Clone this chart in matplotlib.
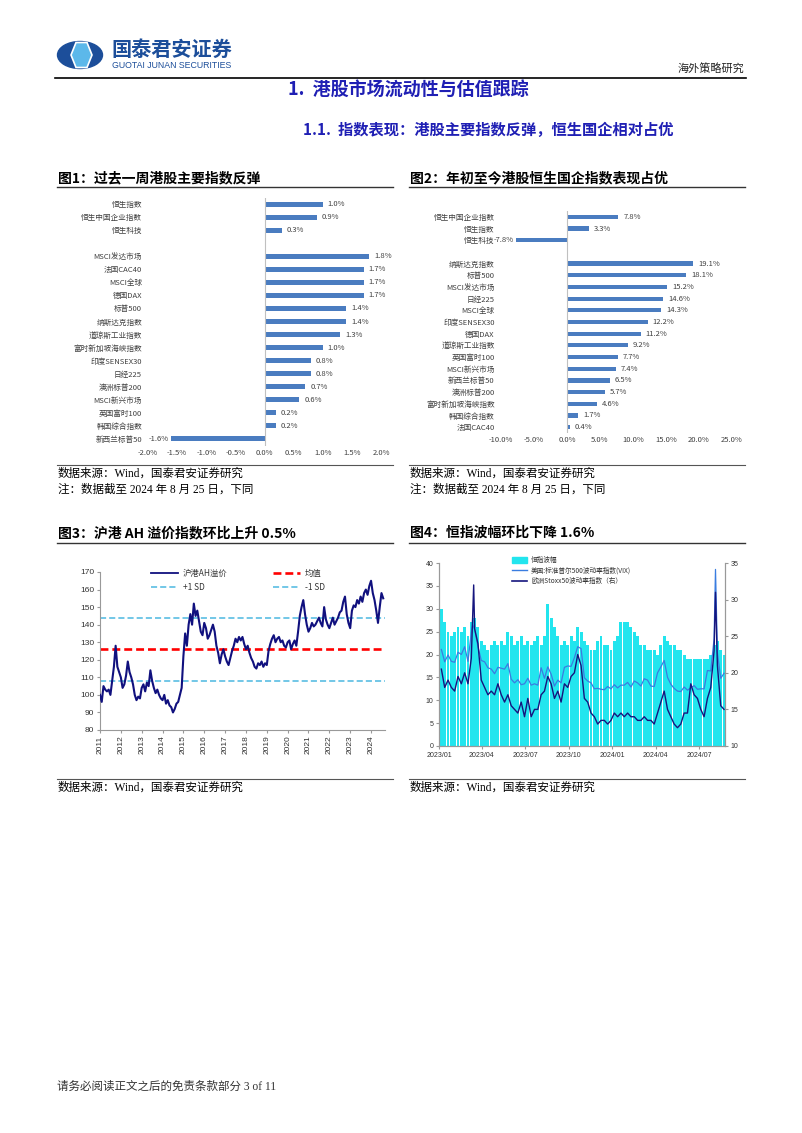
import numpy as np
import pandas as pd
import matplotlib
matplotlib.use("Agg")
import matplotlib.pyplot as plt
from matplotlib.patches import Ellipse, Polygon, Patch
from matplotlib.lines import Line2D

W, H = 802, 1133
CJK = ["Noto Sans CJK SC", "DejaVu Sans"]
SERIF = ["Liberation Serif", "Noto Sans CJK SC"]
ARIAL = ["Liberation Sans", "Noto Sans CJK SC"]
plt.rcParams["font.family"] = CJK
plt.rcParams["axes.unicode_minus"] = False

BLUE_T = "#1f1fb4"
BAR = "#4a7cc0"
GREY_TXT = "#404040"

# ---- fig 1: weekly change (%)
hk1_names = ["恒生指数", "恒生中国企业指数", "恒生科技"]
hk1_vals = [1.0, 0.9, 0.3]
gl1_names = ["MSCI发达市场", "法国CAC40", "MSCI全球", "德国DAX", "标普500", "纳斯达克指数",
             "道琼斯工业指数", "富时新加坡海峡指数", "印度SENSEX30", "日经225", "澳洲标普200",
             "MSCI新兴市场", "英国富时100", "韩国综合指数", "新西兰标普50"]
gl1_vals = [1.8, 1.7, 1.7, 1.7, 1.4, 1.4, 1.3, 1.0, 0.8, 0.8, 0.7, 0.6, 0.2, 0.2, -1.6]
ticks1 = [-2.0, -1.5, -1.0, -0.5, 0.0, 0.5, 1.0, 1.5, 2.0]

# ---- fig 2: YTD change (%)
hk2_names = ["恒生中国企业指数", "恒生指数", "恒生科技"]
hk2_vals = [7.8, 3.3, -7.8]
gl2_names = ["纳斯达克指数", "标普500", "MSCI发达市场", "日经225", "MSCI全球", "印度SENSEX30",
             "德国DAX", "道琼斯工业指数", "英国富时100", "MSCI新兴市场", "新西兰标普50",
             "澳洲标普200", "富时新加坡海峡指数", "韩国综合指数", "法国CAC40"]
gl2_vals = [19.1, 18.1, 15.2, 14.6, 14.3, 12.2, 11.2, 9.2, 7.7, 7.4, 6.5, 5.7, 4.6, 1.7, 0.4]
ticks2 = [-10.0, -5.0, 0.0, 5.0, 10.0, 15.0, 20.0, 25.0]

# ---- fig 3: AH premium index, monthly readings 2011/01 - 2024/08
ah_premium = [
    100, 96, 105, 103, 102, 103, 100, 108, 116, 128, 116, 113,   # 2011
    110, 104, 106, 111, 119, 113, 110, 106, 100, 97, 99, 98,     # 2012
    104, 106, 102, 107, 105, 114, 108, 104, 101, 103, 100, 98,   # 2013
    97, 100, 95, 97, 94, 93, 90, 92, 95, 96, 100, 104,           # 2014
    122, 135, 128, 140, 146, 140, 152, 145, 148, 142, 136, 134,  # 2015
    141, 138, 132, 134, 137, 140, 136, 128, 124, 118, 123, 126,  # 2016
    122, 119, 117, 121, 125, 128, 132, 130, 133, 131, 133, 129,  # 2017
    126, 128, 124, 121, 119, 116, 115, 118, 117, 119, 116, 118,  # 2018
    117, 125, 129, 132, 134, 130, 132, 133, 130, 131, 128, 127,  # 2019
    130, 131, 126, 129, 131, 128, 136, 145, 150, 154, 146, 140,  # 2020
    136, 138, 141, 139, 140, 142, 144, 141, 139, 150, 143, 140,  # 2021
    138, 141, 144, 140, 142, 144, 147, 148, 153, 156, 146, 141,  # 2022
    138, 148, 151, 150, 154, 152, 156, 153, 158, 160, 157, 162,  # 2023
    165, 158, 154, 148, 141, 150, 158, 155,                      # 2024
]
ah_mean, ah_up, ah_dn = 126, 144, 108
ah_years = list(range(2011, 2025))

# ---- fig 4: volatility, weekly readings (Fridays 2023-01-06 .. 2024-08-23)
vhsi = [30, 27, 25, 24, 25, 26, 25, 26, 24, 27, 28, 26, 23, 22, 21, 22, 23,
        22, 23, 22, 25, 24, 22, 23, 24, 22, 23, 22, 23, 24, 22, 24, 31, 28,
        26, 24, 22, 23, 22, 24, 23, 26, 25, 23, 22, 21, 21, 23, 24, 22, 22, 21,
        23, 24, 27, 27, 27, 26, 25, 24, 22, 22, 21, 21, 21, 20, 22, 24, 23,
        22, 22, 21, 21, 20, 19, 19, 19, 19, 19, 19, 19, 20, 22, 23, 21, 20]
vix = [21.1, 18.4, 19.9, 18.5, 18.3, 20.5, 20.0, 21.7, 18.5, 24.8, 25.5, 21.7, 18.7,
       18.4, 17.1, 16.8, 15.8, 17.2, 17.0, 16.8, 18.0, 14.6, 13.8, 14.5, 13.4, 13.6,
       14.8, 13.3, 13.6, 13.3, 17.1, 14.8, 17.3, 15.7, 13.1, 14.4, 13.8, 17.2, 17.5,
       17.4, 19.3, 21.7, 21.3, 14.9, 14.2, 13.8, 12.5, 12.6, 12.4, 12.3, 13.0, 12.5,
       13.4, 12.7, 13.3, 13.3, 13.9, 12.9, 14.2, 13.8, 13.1, 14.7, 14.4, 13.1, 13.0,
       16.0, 17.3, 18.7, 15.0, 13.5, 12.6, 12.0, 11.9, 12.9, 12.2, 12.7, 13.2, 12.4,
       12.5, 12.5, 16.5, 16.4, 23.4, 20.4, 14.8, 15.9]
v2x = [20.5, 18.0, 19.0, 18.0, 17.5, 19.5, 18.5, 20.0, 18.5, 22.0, 26.0, 24.0, 19.0,
       18.0, 17.0, 17.5, 17.0, 18.5, 17.0, 16.0, 17.0, 15.5, 15.0, 14.5, 16.0, 14.0,
       16.5, 14.0, 15.0, 15.0, 17.0, 17.5, 19.5, 18.5, 16.5, 17.5, 16.0, 18.5, 18.0,
       19.5, 20.0, 22.5, 21.0, 16.5, 16.0, 14.5, 14.0, 13.0, 13.5, 13.5, 13.0, 13.5,
       14.5, 14.0, 14.5, 14.0, 14.5, 14.0, 14.0, 13.5, 13.5, 14.0, 13.5, 13.5, 13.0,
       14.5, 16.0, 17.5, 15.0, 14.0, 13.0, 12.5, 13.0, 14.5, 14.5, 18.5, 17.0, 16.5,
       15.0, 14.0, 16.5, 18.0, 23.0, 21.0, 15.5, 15.0]
vix_spike_dates = ["2023-03-13", "2024-08-05"]
vix_spike_vals = [26.5, 38.6]
v2x_spike_dates = ["2023-03-15", "2024-08-05"]
v2x_spike_vals = [32.0, 31.0]
vol_ticks = ["2023-01-01", "2023-04-01", "2023-07-01", "2023-10-01",
             "2024-01-01", "2024-04-01", "2024-07-01"]
vol_tick_labels = ["2023/01", "2023/04", "2023/07", "2023/10", "2024/01", "2024/04", "2024/07"]


def rect(l, t, r, b):
    return [l / W, 1 - b / H, (r - l) / W, (b - t) / H]


def merged(dates, vals, sdates, svals):
    s = pd.Series(list(vals) + list(svals), index=list(dates) + list(pd.to_datetime(sdates)))
    return s.sort_index()


fig = plt.figure(figsize=(W / 100, H / 100), dpi=100)
bg = fig.add_axes([0, 0, 1, 1])
bg.set_xlim(0, W)
bg.set_ylim(H, 0)
bg.axis("off")

# header
bg.add_patch(Ellipse((80, 55), 45, 27, color="#1c4e9a"))
bg.add_patch(Polygon([(76, 42.5), (87, 42.5), (92, 55), (87, 67.5), (76, 67.5), (71, 55)],
                     closed=True, fc="#5cb8ea", ec="white", lw=1.2))
bg.text(111, 49, "国泰君安证券", fontsize=14.5, weight="bold", color="#1c4e9a", va="center")
bg.text(112, 65, "GUOTAI JUNAN SECURITIES", fontsize=6.3, color="#1c4e9a", va="center",
        family=ARIAL)
bg.text(744, 68, "海外策略研究", fontsize=8, color="#222222", ha="right", va="center")
bg.plot([55, 746], [77.5, 77.5], color="black", lw=1.2)
bg.text(288, 90, "1.  港股市场流动性与估值跟踪", fontsize=13, weight="bold", color=BLUE_T, va="center")
bg.text(303, 130, "1.1.  指数表现：港股主要指数反弹，恒生国企相对占优", fontsize=11, weight="bold",
        color=BLUE_T, va="center")

# chart titles, rules and notes
for x0, x1, t in [(58, 393, "图1：过去一周港股主要指数反弹"), (410, 745, "图2：年初至今港股恒生国企指数表现占优")]:
    bg.text(x0, 178, t, fontsize=10, weight="bold", va="center")
    bg.plot([x0 - 1, x1], [187, 187], color="#333333", lw=1.0)
    bg.plot([x0 - 1, x1], [465, 465], color="#555555", lw=0.8)
    bg.text(x0, 474, "数据来源：Wind，国泰君安证券研究", fontsize=8.3, va="center", family=SERIF)
    bg.text(x0, 490, "注：数据截至 2024 年 8 月 25 日，下同", fontsize=8.3, va="center", family=SERIF)
for x0, x1, t in [(58, 393, "图3：沪港 AH 溢价指数环比上升 0.5%"), (410, 745, "图4：恒指波幅环比下降 1.6%")]:
    bg.text(x0, 533, t, fontsize=10, weight="bold", va="center")
    bg.plot([x0 - 1, x1], [543, 543], color="#333333", lw=1.0)
    bg.plot([x0 - 1, x1], [779, 779], color="#555555", lw=0.8)
    bg.text(x0, 788, "数据来源：Wind，国泰君安证券研究", fontsize=8.3, va="center", family=SERIF)
bg.text(57, 1087, "请务必阅读正文之后的免责条款部分 3 of 11", fontsize=8.3, va="center",
        family=SERIF, color="#333333")


def hbars(ax, hk_names, hk_vals, gl_names, gl_vals, ticks, height, pad):
    names = hk_names + gl_names
    vals = hk_vals + gl_vals
    pos = list(range(len(hk_names))) + [len(hk_names) + 1 + i for i in range(len(gl_names))]
    ax.barh(pos, vals, height=height, color=BAR)
    for p, v in zip(pos, vals):
        if v >= 0:
            ax.annotate(f"{v:.1f}%", (v, p), xytext=(3.5, 0), textcoords="offset points",
                        ha="left", va="center", fontsize=5.5, color=GREY_TXT)
        else:
            ax.annotate(f"{v:.1f}%", (v, p), xytext=(-1.5, 0), textcoords="offset points",
                        ha="right", va="center", fontsize=5.5, color=GREY_TXT)
    ax.axvline(0, color="#c0c0c0", lw=0.8)
    ax.set_yticks(pos)
    ax.set_yticklabels(names, fontsize=5.5, color=GREY_TXT)
    ax.set_ylim(max(pos) + 0.5, -0.5)
    ax.set_xlim(ticks[0], ticks[-1])
    ax.set_xticks(ticks)
    ax.set_xticklabels([f"{t:.1f}%" for t in ticks], fontsize=5.5, color=GREY_TXT)
    ax.tick_params(axis="y", length=0, pad=pad)
    ax.tick_params(axis="x", length=0, pad=2.5)
    for s in ax.spines.values():
        s.set_visible(False)


ax1 = fig.add_axes(rect(148, 197.5, 381, 445.5))
hbars(ax1, hk1_names, hk1_vals, gl1_names, gl1_vals, ticks1, 0.38, 4.3)
ax2 = fig.add_axes(rect(501, 211, 732, 433))
hbars(ax2, hk2_names, hk2_vals, gl2_names, gl2_vals, ticks2, 0.36, 4.5)

# ---- chart 3
ax3 = fig.add_axes(rect(100, 572, 384.6, 730))
ah_x = 2011 + np.arange(len(ah_premium)) / 12
ax3.plot(ah_x, ah_premium, color="#10107e", lw=1.5, zorder=3)
ax3.axhline(ah_mean, color="#ff0000", lw=1.9, ls=(0, (3, 1.5)), zorder=2)
ax3.axhline(ah_up, color="#4bb8e0", lw=1.1, ls=(0, (4, 2)), zorder=2)
ax3.axhline(ah_dn, color="#4bb8e0", lw=1.1, ls=(0, (4, 2)), zorder=2)
ax3.set_ylim(80, 170)
ax3.set_yticks(range(80, 171, 10))
ax3.set_xlim(2011, 2024.65)
ax3.set_xticks(ah_years)
ax3.set_xticklabels([str(y) for y in ah_years], rotation=90)
for lab in ax3.get_xticklabels() + ax3.get_yticklabels():
    lab.set_family(ARIAL)
    lab.set_fontsize(6)
    lab.set_color("#333333")
ax3.tick_params(length=2, color="#999999", pad=2)
for k in ["top", "right"]:
    ax3.spines[k].set_visible(False)
for k in ["left", "bottom"]:
    ax3.spines[k].set_color("#999999")
    ax3.spines[k].set_linewidth(0.8)
h3 = [Line2D([], [], color="#10107e", lw=1.3),
      Line2D([], [], color="#4bb8e0", lw=1.1, ls=(0, (4, 2))),
      Line2D([], [], color="#ff0000", lw=1.9, ls=(0, (3, 1.5))),
      Line2D([], [], color="#4bb8e0", lw=1.1, ls=(0, (4, 2)))]
ax3.legend(h3, ["沪港AH溢价", "+1 SD", "均值", "-1 SD"], ncol=2, loc="upper left",
           bbox_to_anchor=(147 / W, 1 - 565 / H), bbox_transform=fig.transFigure,
           frameon=False, fontsize=6, handlelength=3.2, columnspacing=5.5,
           labelspacing=0.55, borderpad=0, handletextpad=0.6, labelcolor="#333333")

# ---- chart 4
weeks = pd.date_range("2023-01-06", "2024-08-23", freq="W-FRI")
ax4 = fig.add_axes(rect(439, 563, 725, 746))
ax4.bar(weeks, vhsi, width=6.2, color="#22e5ee", lw=0, zorder=1)
vix_s = merged(weeks, vix, vix_spike_dates, vix_spike_vals)
ax4.plot(vix_s.index, vix_s.values, color="#3a7de0", lw=0.9, zorder=2)
ax4.set_ylim(0, 40)
ax4.set_yticks(range(0, 41, 5))
ax4r = ax4.twinx()
v2x_s = merged(weeks, v2x, v2x_spike_dates, v2x_spike_vals)
ax4r.plot(v2x_s.index, v2x_s.values, color="#15157e", lw=1.0)
ax4r.set_ylim(10, 35)
ax4r.set_yticks(range(10, 36, 5))
ax4.set_xlim(pd.Timestamp("2023-01-01"), pd.Timestamp("2024-08-25"))
ax4.set_xticks(pd.to_datetime(vol_ticks))
ax4.set_xticklabels(vol_tick_labels)
for a in (ax4, ax4r):
    for lab in a.get_xticklabels() + a.get_yticklabels():
        lab.set_family(ARIAL)
        lab.set_fontsize(5)
        lab.set_color("#333333")
    a.tick_params(length=2, color="#999999", pad=2)
    a.spines["top"].set_visible(False)
    for k in ["left", "right", "bottom"]:
        a.spines[k].set_color("#999999")
        a.spines[k].set_linewidth(0.8)
h4 = [Patch(color="#22e5ee"), Line2D([], [], color="#3a7de0", lw=1.0),
      Line2D([], [], color="#15157e", lw=1.2)]
ax4r.legend(h4, ["恒指波幅", "美国:标准普尔500波动率指数(VIX)", "欧洲Stoxx50波动率指数（右）"],
            loc="upper left", bbox_to_anchor=(509 / W, 1 - 553 / H), bbox_transform=fig.transFigure,
            frameon=False, fontsize=4.8, handlelength=2.2, handleheight=0.8, labelspacing=0.35,
            borderpad=0, handletextpad=0.6, labelcolor="#333333")

fig.savefig("out.png", dpi=100)
